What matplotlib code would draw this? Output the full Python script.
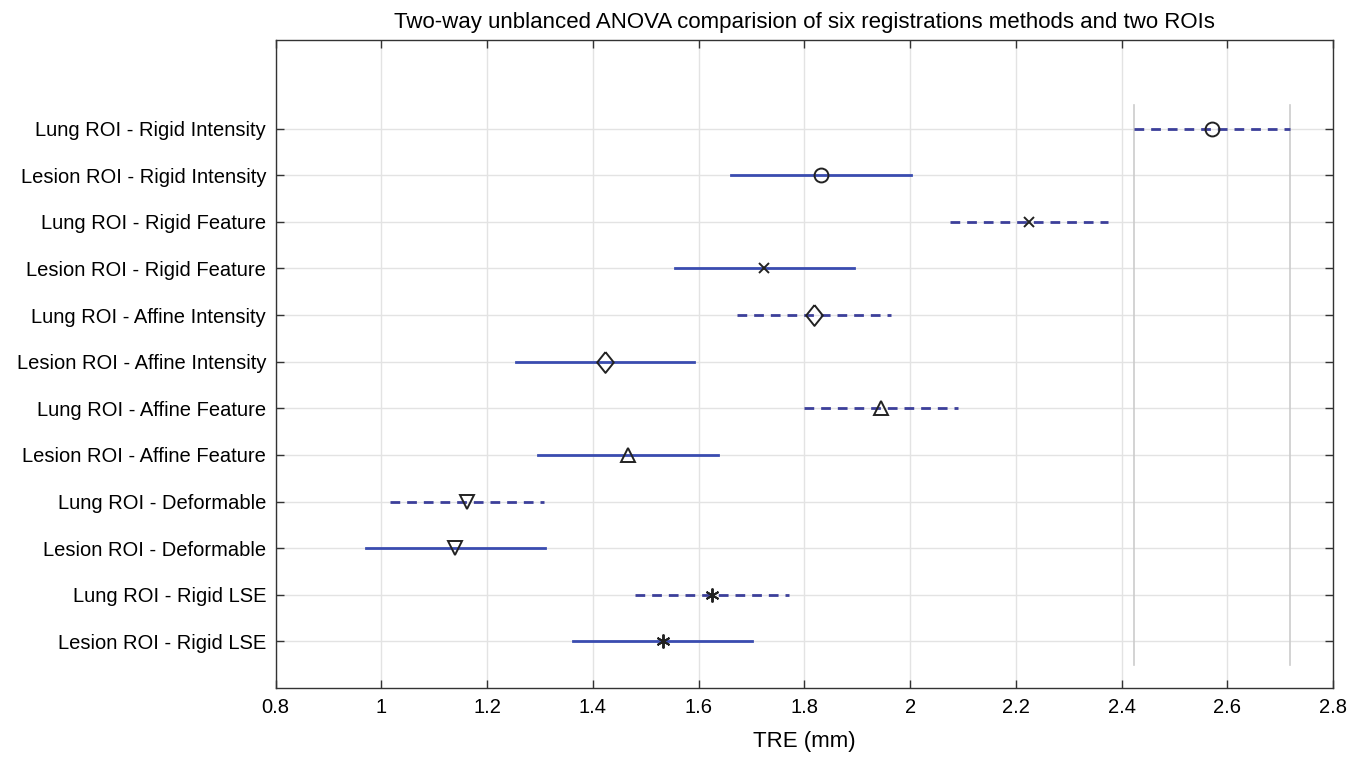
import matplotlib
matplotlib.use('Agg')
import matplotlib.pyplot as plt

plt.rcParams['font.family'] = ['Liberation Sans', 'DejaVu Sans']

# groups from bottom to top
labels = ['Lesion ROI - Rigid LSE', 'Lung ROI - Rigid LSE',
          'Lesion ROI - Deformable', 'Lung ROI - Deformable',
          'Lesion ROI - Affine Feature', 'Lung ROI - Affine Feature',
          'Lesion ROI - Affine Intensity', 'Lung ROI - Affine Intensity',
          'Lesion ROI - Rigid Feature', 'Lung ROI - Rigid Feature',
          'Lesion ROI - Rigid Intensity', 'Lung ROI - Rigid Intensity']
means = [1.532, 1.625, 1.140, 1.162, 1.467, 1.945, 1.423, 1.818, 1.724, 2.225, 1.831, 2.571]
halfw = [0.169, 0.146, 0.170, 0.145, 0.170, 0.145, 0.169, 0.145, 0.169, 0.150, 0.170, 0.147]
roi = ['Lesion', 'Lung'] * 6
xticks = [0.8, 1.0, 1.2, 1.4, 1.6, 1.8, 2.0, 2.2, 2.4, 2.6, 2.8]
xtick_labels = ['0.8', '1', '1.2', '1.4', '1.6', '1.8', '2', '2.2', '2.4', '2.6', '2.8']

# marker style per method (MATLAB-like symbols)
diamond = [(0, 1), (0.8, 0), (0, -1), (-0.8, 0), (0, 1)]
markers = [(6, 2, 0), (6, 2, 0), 'v', 'v', '^', '^', diamond, diamond, 'x', 'x', 'o', 'o']
msizes = [10, 10, 10, 10, 10, 10, 15, 15, 7.5, 7.5, 10, 10]

fig = plt.figure(figsize=(13.65, 7.58), dpi=100)
ax = fig.add_axes([0.202, 0.0923, 0.7746, 0.8549])

ypos = list(range(1, len(labels) + 1))
for y, m, h, r, mk, ms in zip(ypos, means, halfw, roi, markers, msizes):
    if r == 'Lung':
        ax.plot([m - h, m + h], [y, y], color='#3c3f9a', lw=2.0,
                linestyle=(0, (3.5, 2.5)), zorder=3)
    else:
        ax.plot([m - h, m + h], [y, y], color='#3a4cb0', lw=2.0, zorder=3)
    ax.plot(m, y, marker=mk, markersize=ms, markerfacecolor='none',
            markeredgecolor='#222222', markeredgewidth=1.4, linestyle='none', zorder=4)

# comparison interval of the selected group
sel = len(labels) - 1
for xv in (means[sel] - halfw[sel], means[sel] + halfw[sel]):
    ax.plot([xv, xv], [0.5, 12.5], color='#cccccc', lw=1.2, zorder=2)

ax.set_xlim(0.8, 2.8)
ax.set_ylim(0, 13.9)
ax.set_xticks(xticks)
ax.set_xticklabels(xtick_labels)
ax.set_yticks(ypos)
ax.set_yticklabels(labels)
ax.grid(True, color='#e3e3e3', lw=1.0, zorder=0)
ax.set_axisbelow(True)
ax.tick_params(axis='both', direction='in', top=True, right=True,
               labelsize=14.5, length=6, width=1.0, color='#333333')
ax.tick_params(axis='x', pad=7)
ax.tick_params(axis='y', pad=7)
for s in ax.spines.values():
    s.set_color('#333333')
    s.set_linewidth(1.0)

ax.set_xlabel('TRE (mm)', fontsize=16, labelpad=10)
ax.set_title('Two-way unblanced ANOVA comparision of six registrations methods and two ROIs',
             fontsize=16, pad=9)

fig.savefig('out.png', dpi=100)
